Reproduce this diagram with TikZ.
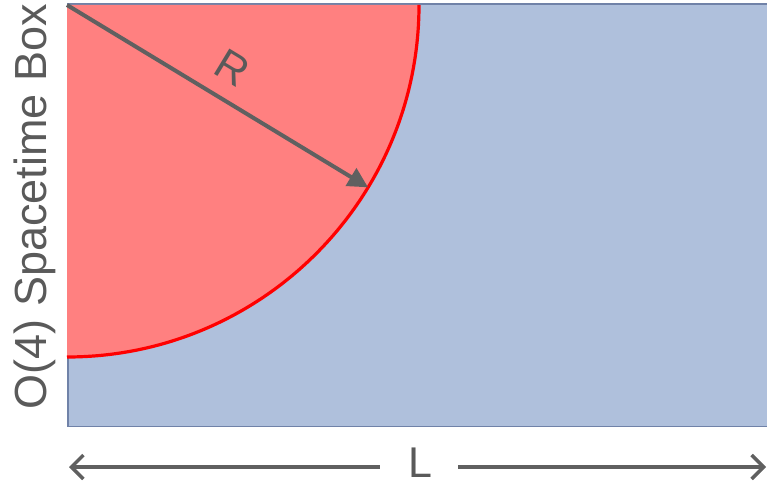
\documentclass[tikz,border=0pt]{standalone}
\usepackage{fontspec}
\setmainfont{Liberation Sans}
\usetikzlibrary{arrows.meta,calc}
\definecolor{boxblue}{RGB}{175,192,220}
\definecolor{boxedge}{RGB}{112,130,168}
\definecolor{sphfill}{RGB}{255,128,128}
\definecolor{arrgray}{RGB}{96,96,96}
\definecolor{txtgray}{RGB}{90,90,90}
\begin{document}
\begin{tikzpicture}[x=1pt,y=1pt,
  lab/.style={text=txtgray,font=\fontsize{43}{43}\selectfont,inner sep=0pt},
  garrow/.style={draw=arrgray,line width=4pt,-{Triangle[length=20pt,width=20pt]}},
  dimarrow/.style={draw=arrgray,line width=3.5pt,-{Straight Barb[length=12pt,width=24pt]}}]
\useasboundingbox (0,0) rectangle (767,482);
% box
\node[draw=boxedge,fill=boxblue,line width=1.5pt,minimum width=701pt,minimum height=422pt,anchor=south west,inner sep=0pt] (box) at (67,55) {};
% sphere quarter
\coordinate (C) at (67,477);
\fill[sphfill] (C) -- (419,477) arc[start angle=0,end angle=-90,radius=352] -- cycle;
\draw[red,line width=3.2pt] (419,477) arc[start angle=0,end angle=-90,radius=352];
\coordinate (T) at ($(C)+(-31.2:352)$);
\draw[garrow] (C) -- (T);
\node[lab,rotate=-31.2] (R) at (232,414) {R};
% left label
\node[lab,rotate=90,font=\fontsize{45}{45}\selectfont,anchor=base] (title) at (46.5,275.5) {O(4) Spacetime Box};
% L dimension
\node[lab,anchor=base] (L) at (420,4.5) {L};
\coordinate (La) at (69,15);
\coordinate (Lb) at (766,15);
\draw[dimarrow] (L.west|-La) ++(-28,0) -- (La);
\draw[dimarrow] (L.east|-Lb) ++(26,0) -- (Lb);
\end{tikzpicture}
\end{document}
